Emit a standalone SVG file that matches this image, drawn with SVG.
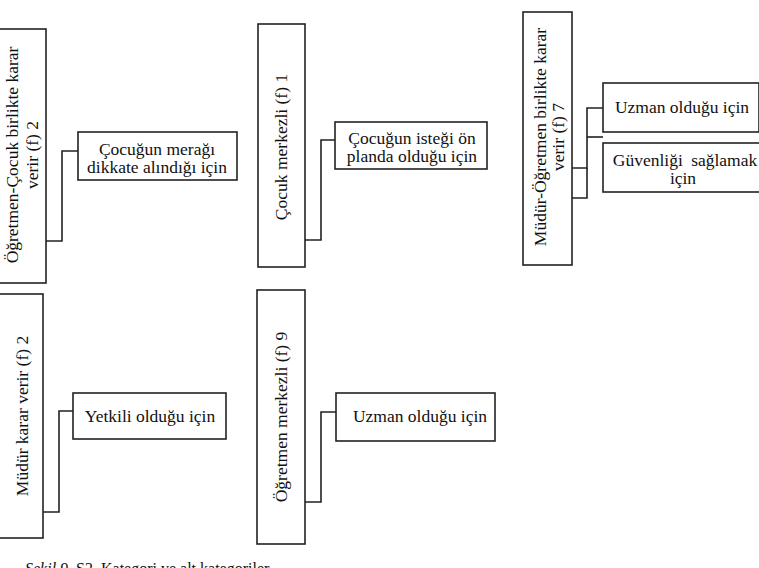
<svg xmlns="http://www.w3.org/2000/svg" width="759" height="568" viewBox="0 0 759 568">
<style>
rect{fill:#fff;stroke:#222;stroke-width:1.6}
.c{fill:none;stroke:#222;stroke-width:1.6}
text{font-family:"Liberation Serif","Times New Roman",serif;font-size:17.5px;fill:#111;text-anchor:middle}
.cap{font-size:16px;text-anchor:start}
</style>
<rect x="0" y="0" width="759" height="568" style="stroke:none"/>
<g id="n1">
<rect x="-2" y="29" width="48" height="254"/>
<text transform="translate(0,155) rotate(-90)"><tspan x="0" y="18">Öğretmen-Çocuk birlikte karar</tspan><tspan x="0" y="38">verir (f) 2</tspan></text>
</g>
<g id="n1a">
<rect x="78" y="132" width="159" height="48"/>
<text x="157" y="155">Çocuğun merağı</text>
<text x="157" y="173">dikkate alındığı için</text>
</g>
<g id="n2">
<rect x="258" y="24" width="47" height="243"/>
<text transform="translate(0,147) rotate(-90)" x="0" y="287">Çocuk merkezli (f) 1</text>
</g>
<g id="n2a">
<rect x="335" y="122" width="152" height="47"/>
<text x="412" y="144">Çocuğun isteği ön</text>
<text x="412" y="162">planda olduğu için</text>
</g>
<g id="n3">
<rect x="523" y="12" width="49" height="253"/>
<text transform="translate(0,137) rotate(-90)"><tspan x="0" y="546">Müdür-Öğretmen birlikte karar</tspan><tspan x="0" y="564">verir (f) 7</tspan></text>
</g>
<g id="n3a">
<rect x="603" y="83" width="156" height="49"/>
<text x="682" y="113">Uzman olduğu için</text>
</g>
<g id="n3b">
<rect x="603" y="143" width="160" height="49"/>
<text x="685" y="166" style="word-spacing:4px">Güvenliği sağlamak</text>
<text x="683" y="184">için</text>
</g>
<g id="n4">
<rect x="-2" y="294" width="45" height="244"/>
<text transform="translate(0,416) rotate(-90)" x="0" y="28">Müdür karar verir (f) 2</text>
</g>
<g id="n4a">
<rect x="73" y="393" width="153" height="46"/>
<text x="150" y="422">Yetkili olduğu için</text>
</g>
<g id="n5">
<rect x="257" y="290" width="48" height="254"/>
<text transform="translate(0,417) rotate(-90)" x="0" y="287">Öğretmen merkezli (f) 9</text>
</g>
<g id="n5a">
<rect x="336" y="393" width="159" height="48"/>
<text x="420" y="422">Uzman olduğu için</text>
</g>
<g id="connectors">
<polyline class="c" points="46,241 62,241 62,151 78,151"/>
<polyline class="c" points="305,240 321,240 321,140 335,140"/>
<polyline class="c" points="572,168 587,168 587,108 603,108"/>
<polyline class="c" points="572,198 587,198 587,168"/>
<line class="c" x1="587" y1="137" x2="603" y2="137"/>
<polyline class="c" points="43,512 59,512 59,411 73,411"/>
<polyline class="c" points="305,502 321,502 321,412 336,412"/>
</g>
<text class="cap" x="25" y="574"><tspan font-style="italic">Şekil 9.</tspan>  S2. Kategori ve alt kategoriler</text>
</svg>
